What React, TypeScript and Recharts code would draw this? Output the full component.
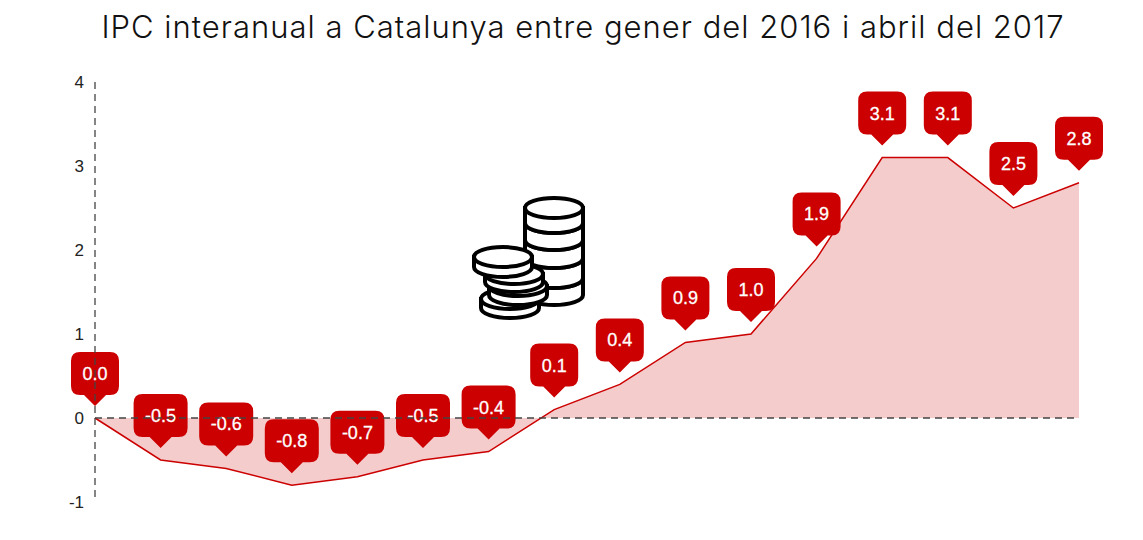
import { AreaChart, Area, XAxis, YAxis, ReferenceLine, LabelList } from "recharts";

const months = [
  "gen 16", "feb 16", "mar 16", "abr 16", "mai 16", "jun 16", "jul 16", "ago 16",
  "set 16", "oct 16", "nov 16", "des 16", "gen 17", "feb 17", "mar 17", "abr 17",
];
const ipc = [0.0, -0.5, -0.6, -0.8, -0.7, -0.5, -0.4, 0.1, 0.4, 0.9, 1.0, 1.9, 3.1, 3.1, 2.5, 2.8];
const yTicks = [-1, 0, 1, 2, 3, 4];

const data = months.map((month, i) => ({ month, ipc: ipc[i] }));

const RED = "#cc0000";

// bubble above each point, the tip stops 12px over the line
const Bubble = (props: any) => {
  const { x, y, value } = props;
  const text = Number(value).toFixed(1);
  const w = text.length > 3 ? 54 : 48;
  const h = 43;
  const tipY = y - 12;
  const top = tipY - 11 - h;
  const bottom = tipY - 11;
  const l = x - w / 2;
  const r = x + w / 2;
  const rad = 9;
  const d = `M${l + rad},${top} H${r - rad} Q${r},${top} ${r},${top + rad} V${bottom - rad} Q${r},${bottom} ${r - rad},${bottom}
    H${x + 11} L${x},${tipY} L${x - 11},${bottom} H${l + rad} Q${l},${bottom} ${l},${bottom - rad} V${top + rad} Q${l},${top} ${l + rad},${top} Z`;
  return (
    <g>
      <path d={d} fill={RED} />
      <text
        x={x}
        y={top + h / 2 + 6.5}
        textAnchor="middle"
        fill="#fff"
        stroke="#fff"
        strokeWidth={0.3}
        fontFamily="Liberation Sans"
        fontSize={18}
      >
        {text}
      </text>
    </g>
  );
};

const coinStroke = { fill: "#fff", stroke: "#000", strokeWidth: 4 };

const Coin = ({ cx, cy, rx, thick }: { cx: number; cy: number; rx: number; thick: number }) => (
  <g {...coinStroke}>
    <path d={`M${cx - rx},${cy} V${cy + thick} A${rx},10 0 0 0 ${cx + rx},${cy + thick} V${cy} Z`} />
    <ellipse cx={cx} cy={cy} rx={rx} ry={10} />
  </g>
);

// stack of coins, drawn bottom up
const Coins = () => (
  <svg width={1143} height={540} style={{ position: "absolute", left: 0, top: 0 }}>
    <Coin cx={554} cy={278} rx={29} thick={17} />
    <Coin cx={554} cy={258} rx={29} thick={20} />
    <Coin cx={554} cy={240} rx={29} thick={18} />
    <Coin cx={554} cy={223} rx={29} thick={17} />
    <Coin cx={554} cy={208} rx={29} thick={15} />
    <Coin cx={510} cy={299} rx={29} thick={9} />
    <Coin cx={518} cy={286} rx={29} thick={9} />
    <Coin cx={514} cy={274} rx={29} thick={8} />
    <Coin cx={503} cy={257} rx={29} thick={10} />
  </svg>
);

export default function App() {
  return (
    <div style={{ position: "absolute", left: 0, top: 0, width: 1143, height: 540, background: "#fff" }}>
      <div
        style={{
          position: "absolute",
          top: 8,
          left: 0,
          width: 1166,
          textAlign: "center",
          fontFamily: "Inter",
          fontWeight: 300,
          fontSize: 31,
          letterSpacing: 1,
          color: "#111",
          whiteSpace: "nowrap",
        }}
      >
        IPC interanual a Catalunya entre gener del 2016 i abril del 2017
      </div>
      <AreaChart
        width={1143}
        height={540}
        data={data}
        margin={{ top: 82, right: 64, bottom: 38, left: 0 }}
      >
        <XAxis dataKey="month" hide />
        <Area
          type="linear"
          dataKey="ipc"
          stroke={RED}
          strokeWidth={1.5}
          fill={RED}
          fillOpacity={0.2}
          dot={false}
          activeDot={false}
          isAnimationActive={false}
        >
          <LabelList dataKey="ipc" content={Bubble} />
        </Area>
        <ReferenceLine y={0} stroke="#444" strokeDasharray="7 5" strokeWidth={1.4} zIndex={2500} />
        <YAxis
          width={95}
          domain={[-1, 4]}
          ticks={yTicks}
          interval={0}
          tickLine={false}
          tickMargin={5}
          axisLine={{ stroke: "#444", strokeDasharray: "7 5", strokeWidth: 1.3 }}
          tick={{ fill: "#222", fontSize: 17, fontFamily: "Liberation Sans" }}
          zIndex={2500}
        />
      </AreaChart>
      <Coins />
    </div>
  );
}
